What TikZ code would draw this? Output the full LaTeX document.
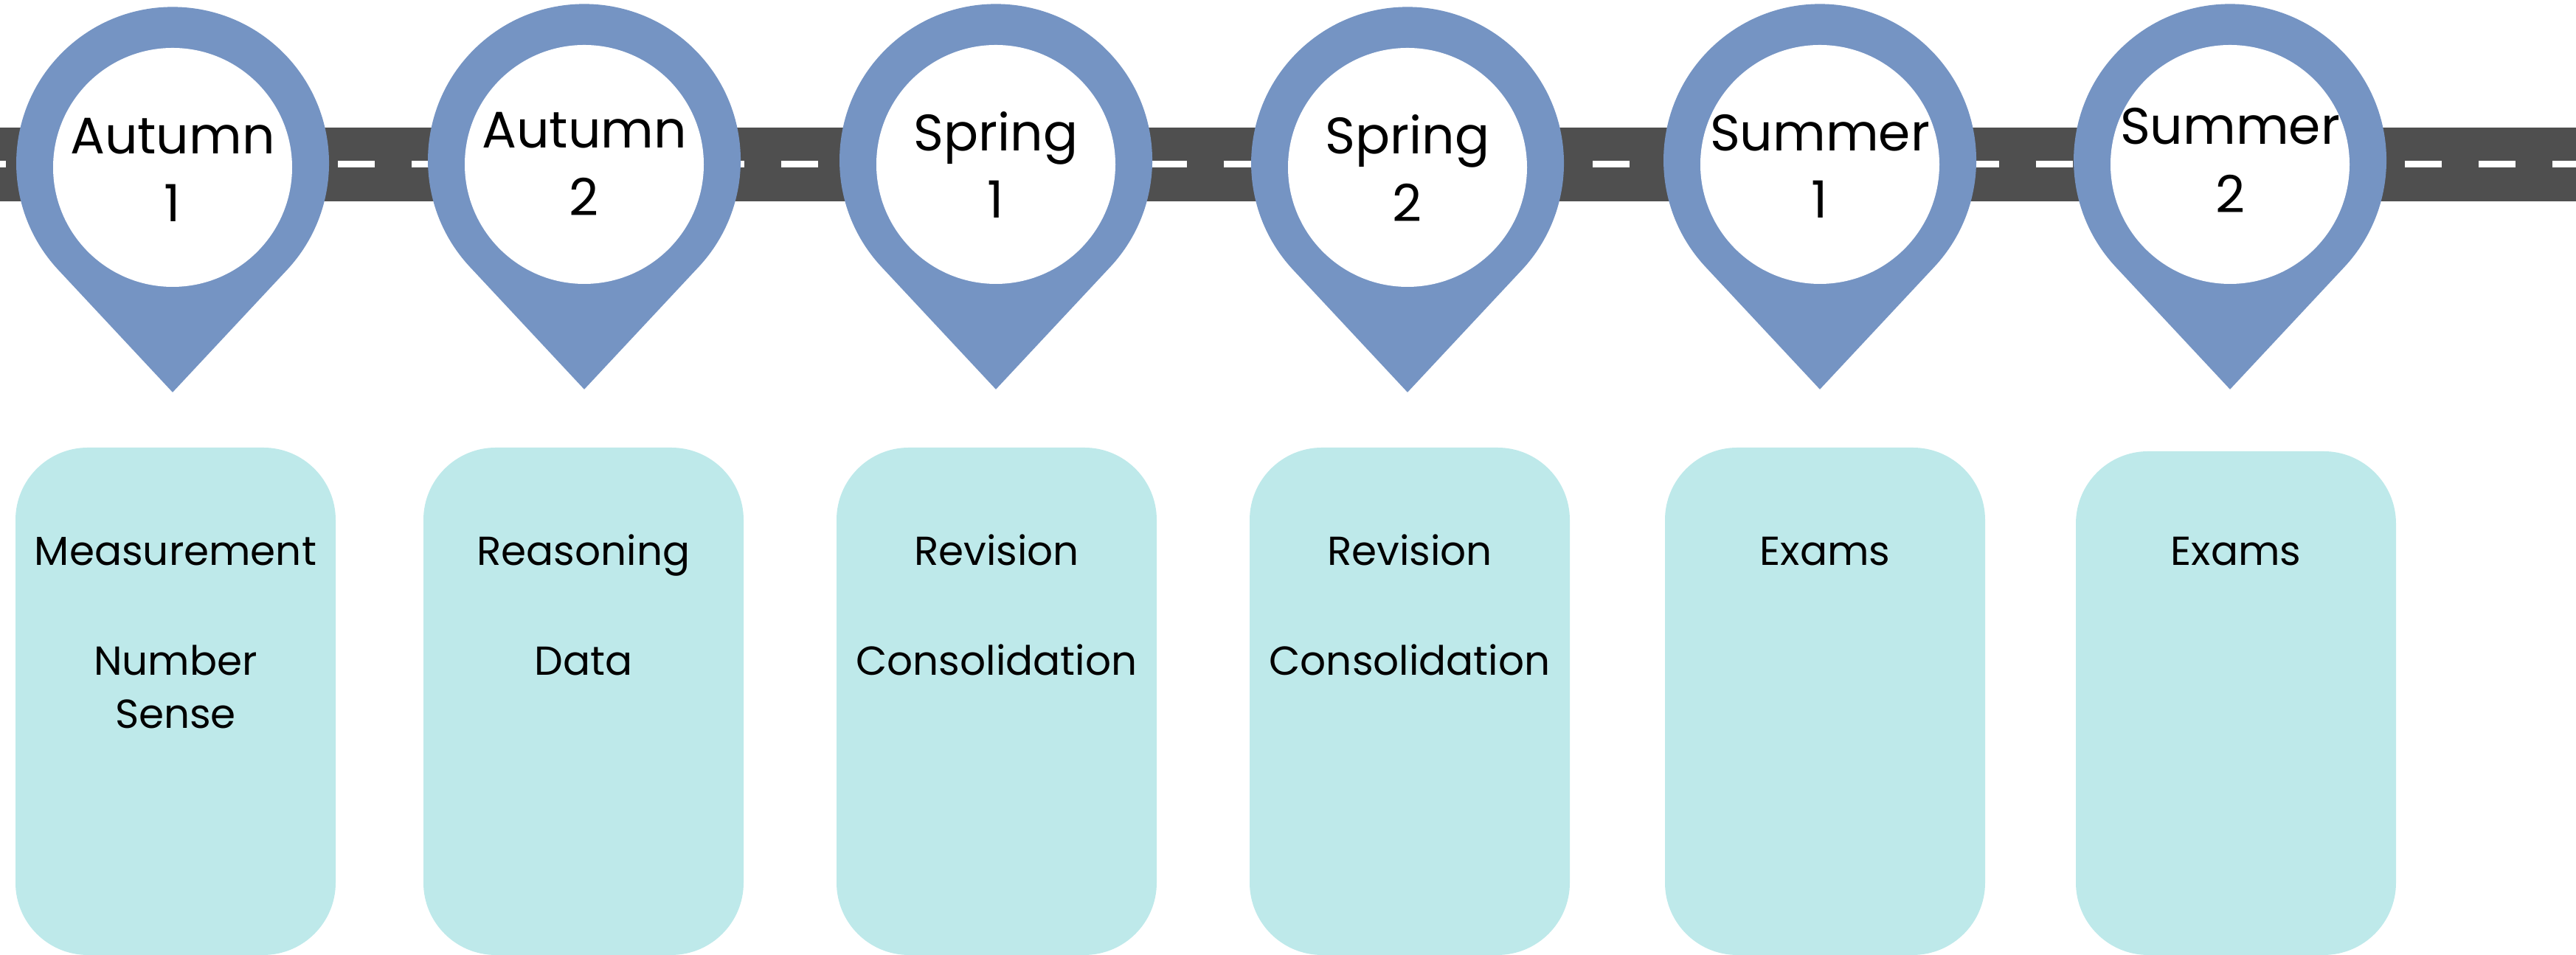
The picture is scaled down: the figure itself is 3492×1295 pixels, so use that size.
\documentclass[tikz,border=0pt]{standalone}
\usepackage{fontspec}
\setmainfont{Poppins}
\definecolor{pinblue}{HTML}{7594C3}
\definecolor{termfill}{HTML}{BEE9EA}
\definecolor{roadgrey}{HTML}{4F4F4F}

\begin{document}
\begin{tikzpicture}[x=0.01cm, y=0.01cm,
		pin/.style={fill=pinblue},
		hole/.style={fill=white},
		term/.style={fill=termfill, rounded corners=0.98cm},
		season/.style={anchor=base, font=\fontsize{19.8}{24}\selectfont},
		topic/.style={anchor=base, font=\fontsize{15.6}{19}\selectfont}]
		\useasboundingbox (0,0) rectangle (3492,1295);
		
		% road
		\fill[roadgrey] (0,1022) rectangle (3492,1122);
		\draw[white, line width=0.09cm, dash pattern=on 0.5cm off 0.5cm, dash phase=0.42cm] (0,1072) -- (3492,1072);
		
		% pins
		\foreach \n/\x/\c/\a/\b/\ya/\yb in {1/234/1074/Autumn/1/1086/994, 2/792/1078/Autumn/2/1094/1002, 3/1350/1078/Spring/1/1090/999, 4/1908/1074/Spring/2/1086/994, 5/2467/1078/Summer/1/1090/999, 6/3023/1078/Summer/2/1099/1006}
		{
		\fill[pin] (\x,\c-311) -- (\x-155,\c-145) arc[start angle=223, end angle=-43, radius=212] -- cycle;
		\fill[hole] (\x,\c-6) circle[radius=162];
		\node[season] (s\n) at (\x,\ya) {\a};
		\node[season] (s\n n) at (\x,\yb) {\b};
		}
		
		% term boxes
		\foreach \x/\t in {238/688, 791/688, 1351/688, 1911/688, 2474/688, 3031/683}
		\fill[term] (\x-217,0) rectangle (\x+217,\t);
		
		\node[topic] (meas) at (238,528) {Measurement};
		\node[topic] (num) at (238,379) {Number};
		\node[topic] (sense) at (238,307) {Sense};
		\node[topic] (reas) at (791,528) {Reasoning};
		\node[topic] (data) at (791,379) {Data};
		\node[topic] (rev1) at (1351,528) {Revision};
		\node[topic] (cons1) at (1351,379) {Consolidation};
		\node[topic] (rev2) at (1911,528) {Revision};
		\node[topic] (cons2) at (1911,379) {Consolidation};
		\node[topic] (exam1) at (2474,528) {Exams};
		\node[topic] (exam2) at (3031,528) {Exams};
	\end{tikzpicture}
\end{document}
